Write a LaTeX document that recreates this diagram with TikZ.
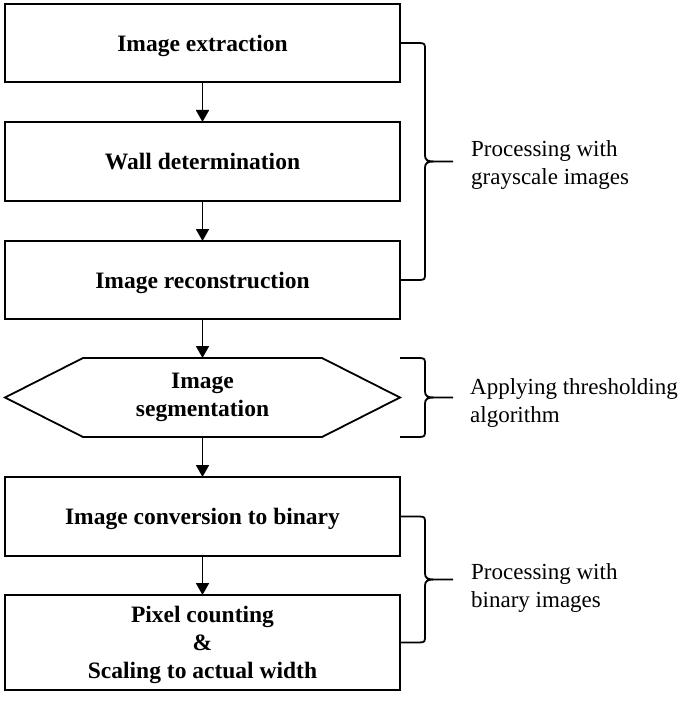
\documentclass[tikz,border=0pt]{standalone}
\usepackage{fontspec}
\setmainfont{Liberation Serif}
\usetikzlibrary{arrows.meta,calc}
\tikzset{
  stepbox/.style={draw, line width=1.8pt, minimum width=395pt, minimum height=78pt,
    inner sep=0pt, outer sep=0pt, align=center, text depth=0pt,
    font=\fontsize{23.5}{28}\selectfont\bfseries},
  hexbox/.style={minimum width=395pt, minimum height=79pt, inner sep=0pt, outer sep=0pt,
    align=center, font=\fontsize{23.5}{28}\selectfont\bfseries},
  flow/.style={line width=1.8pt, -{Triangle[length=12pt,width=13pt]}},
  brc/.style={line width=1.8pt},
  note/.style={anchor=west, align=left, inner sep=0pt, font=\fontsize{23}{28}\selectfont}
}
\newcommand{\mybrace}[2]{%
  \draw[brc] let \p1=#1, \p2=#2, \p3=($#1!0.5!#2$) in
    (\p1) -- (\x1+19pt,\y1) .. controls (\x1+25pt,\y1) and (\x1+25pt,\y1-1pt) .. (\x1+25pt,\y1-7pt)
    -- (\x1+25pt,\y3+6pt) .. controls (\x1+25pt,\y3+1pt) and (\x1+28pt,\y3) .. (\x1+35pt,\y3)
    -- (\x1+53pt,\y3)
    (\x1+35pt,\y3) .. controls (\x1+28pt,\y3) and (\x1+25pt,\y3-1pt) .. (\x1+25pt,\y3-6pt)
    -- (\x1+25pt,\y2+7pt) .. controls (\x1+25pt,\y2+1pt) and (\x1+25pt,\y2) .. (\x1+19pt,\y2)
    -- (\p2);}
\begin{document}
\begin{tikzpicture}[x=1pt,y=-1pt]
\useasboundingbox (0,0) rectangle (685,703);
\node[stepbox] (b1) at (202.5,43) {Image extraction};
\node[stepbox, minimum height=79pt] (b2) at (202.5,161.5) {Wall determination};
\node[stepbox] (b3) at (202.5,280) {Image reconstruction};
\node[hexbox] (hx) at (202.5,397.5) {Image\\segmentation};
\draw[line width=1.8pt] (hx.west) -- ([xshift=78pt]hx.north west) -- ([xshift=-78pt]hx.north east)
  -- (hx.east) -- ([xshift=-78pt]hx.south east) -- ([xshift=78pt]hx.south west) -- cycle;
\node[stepbox, minimum height=79pt] (b5) at (202.5,516.5) {Image conversion to binary};
\node[stepbox, minimum height=95pt] (b6) at (202.5,642.5) {Pixel counting\\\&\\Scaling to actual width};

\draw[flow] (b1) -- (b2);
\draw[flow] (b2) -- (b3);
\draw[flow] (b3) -- (hx.north);
\draw[flow] (hx.south) -- (b5);
\draw[flow] (b5) -- (b6);

\mybrace{(b1.east)}{(b3.east)}
\mybrace{(hx.east |- hx.north)}{(hx.east |- hx.south)}
\mybrace{(b5.east)}{(b6.east)}

\node[note] (n1) at (471,165) {Processing with\\grayscale images};
\node[note] (n2) at (470,403) {Applying thresholding\\algorithm};
\node[note] (n3) at (471,588) {Processing with\\binary images};
\end{tikzpicture}
\end{document}
